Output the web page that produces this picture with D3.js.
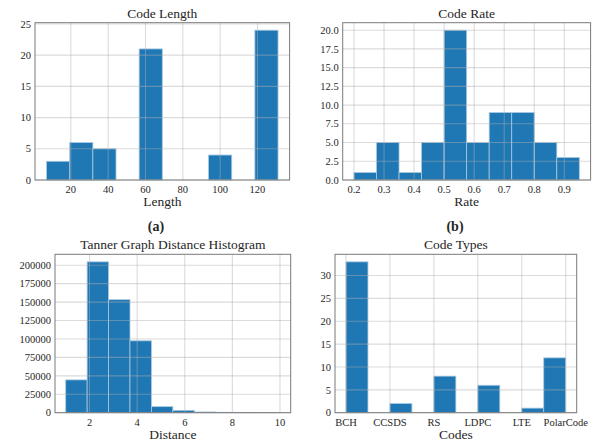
<!DOCTYPE html>
<html>
<head>
<meta charset="utf-8">
<script src="https://cdn.jsdelivr.net/npm/d3@7"></script>
<style>
  body { margin: 0; background: #fff; }
  text { font-family: "Liberation Serif", "DejaVu Serif", serif; fill: #262626; }
</style>
</head>
<body>
<svg id="chart" width="603" height="442"></svg>
<script>
// histogram bin edges and counts
const lengthEdges = [7, 19.4, 31.8, 44.2, 56.6, 69, 81.4, 93.8, 106.2, 118.6, 131]
const lengthCounts = [3, 6, 5, 0, 21, 0, 0, 4, 0, 24]
const lengthTicksX = [20, 40, 60, 80, 100, 120]
const lengthTicksY = [0, 5, 10, 15, 20, 25]

const rateEdges = [0.2, 0.275, 0.35, 0.425, 0.5, 0.575, 0.65, 0.725, 0.8, 0.875, 0.95]
const rateCounts = [1, 5, 1, 5, 20, 5, 9, 9, 5, 3]
const rateTicksX = [0.2, 0.3, 0.4, 0.5, 0.6, 0.7, 0.8, 0.9]
const rateTicksY = [0, 2.5, 5, 7.5, 10, 12.5, 15, 17.5, 20]

const distEdges = [1, 1.9, 2.8, 3.7, 4.6, 5.5, 6.4, 7.3, 8.2, 9.1, 10]
const distCounts = [44500, 204600, 153300, 97500, 8200, 3200, 1000, 500, 150, 50]
const distTicksX = [2, 4, 6, 8, 10]
const distTicksY = [0, 25000, 50000, 75000, 100000, 125000, 150000, 175000, 200000]

const codeNames = ['BCH', 'CCSDS', 'RS', 'LDPC', 'LTE', 'PolarCode']
const codeEdges = [0, 0.5, 1, 1.5, 2, 2.5, 3, 3.5, 4, 4.5, 5]
const codeCounts = [33, 0, 2, 0, 8, 0, 6, 0, 1, 12]
const codeTicksY = [0, 5, 10, 15, 20, 25, 30]

const svg = d3.select('#chart')

function drawHist(p) {
  const x = d3.scaleLinear().domain(p.xDomain).range([p.left, p.right])
  const y = d3.scaleLinear().domain([0, d3.max(p.counts) * 1.05]).range([p.bottom, p.top])
  const g = svg.append('g')

  const bins = p.counts.map((c, i) => ({ x0: p.edges[i], x1: p.edges[i + 1], c: c }))
  g.selectAll('rect.bar')
    .data(bins.filter(b => b.c > 0))
    .join('rect')
    .attr('class', 'bar')
    .attr('x', b => x(b.x0))
    .attr('width', b => x(b.x1) - x(b.x0))
    .attr('y', b => y(b.c))
    .attr('height', b => y(0) - y(b.c))
    .attr('fill', '#1f77b4')
    .attr('stroke', '#a9c8e0')
    .attr('stroke-width', 0.8)

  // grid drawn over the bars, faint
  const grid = g.append('g').attr('stroke', '#b0b0b0').attr('stroke-opacity', 0.45).attr('stroke-width', 1.1)
  p.ticksX.forEach(v => {
    grid.append('line').attr('x1', x(v)).attr('x2', x(v)).attr('y1', p.top).attr('y2', p.bottom)
  })
  p.ticksY.forEach(v => {
    grid.append('line').attr('x1', p.left).attr('x2', p.right).attr('y1', y(v)).attr('y2', y(v))
  })

  g.append('rect')
    .attr('x', p.left).attr('y', p.top)
    .attr('width', p.right - p.left).attr('height', p.bottom - p.top)
    .attr('fill', 'none').attr('stroke', '#7a7a7a').attr('stroke-width', 1)

  g.selectAll('text.xt')
    .data(p.ticksX)
    .join('text')
    .attr('class', 'xt')
    .attr('x', (d, i) => x(d))
    .attr('y', p.bottom + 13)
    .attr('text-anchor', 'middle')
    .attr('font-size', 10.5)
    .text((d, i) => p.labelsX ? p.labelsX[i] : p.fmtX(d))

  g.selectAll('text.yt')
    .data(p.ticksY)
    .join('text')
    .attr('class', 'yt')
    .attr('x', p.left - 4)
    .attr('y', d => y(d))
    .attr('dy', '0.35em')
    .attr('text-anchor', 'end')
    .attr('font-size', 10.5)
    .text(p.fmtY)

  g.append('text')
    .attr('x', (p.left + p.right) / 2)
    .attr('y', p.top - 5)
    .attr('text-anchor', 'middle')
    .attr('font-size', 13.5)
    .text(p.title)

  g.append('text')
    .attr('x', (p.left + p.right) / 2)
    .attr('y', p.bottom + 26)
    .attr('text-anchor', 'middle')
    .attr('font-size', 13.5)
    .text(p.xLabel)
}

drawHist({
  title: 'Code Length', xLabel: 'Length',
  edges: lengthEdges, counts: lengthCounts, ticksX: lengthTicksX, ticksY: lengthTicksY,
  xDomain: [0.8, 137.2], left: 35, right: 289.6, top: 22.7, bottom: 180,
  fmtX: d3.format('d'), fmtY: d3.format('d')
})

drawHist({
  title: 'Code Rate', xLabel: 'Rate',
  edges: rateEdges, counts: rateCounts, ticksX: rateTicksX, ticksY: rateTicksY,
  xDomain: [0.1625, 0.9875], left: 342.7, right: 590.6, top: 22.7, bottom: 180,
  fmtX: d3.format('.1f'), fmtY: d3.format('.1f')
})

drawHist({
  title: 'Tanner Graph Distance Histogram', xLabel: 'Distance',
  edges: distEdges, counts: distCounts, ticksX: distTicksX, ticksY: distTicksY,
  xDomain: [0.55, 10.45], left: 55, right: 290.7, top: 254.3, bottom: 412.7,
  fmtX: d3.format('d'), fmtY: d3.format('d')
})

drawHist({
  title: 'Code Types', xLabel: 'Codes',
  edges: codeEdges, counts: codeCounts, ticksX: d3.range(codeNames.length), ticksY: codeTicksY,
  labelsX: codeNames,
  xDomain: [-0.25, 5.25], left: 335, right: 576.7, top: 254.3, bottom: 412.7,
  fmtX: d3.format('d'), fmtY: d3.format('d')
})

// subfigure captions
svg.append('text').attr('x', 156).attr('y', 231).attr('text-anchor', 'middle').attr('font-size', 14).attr('font-weight', 'bold').text('(a)')
svg.append('text').attr('x', 455).attr('y', 231).attr('text-anchor', 'middle').attr('font-size', 14).attr('font-weight', 'bold').text('(b)')
</script>
</body>
</html>
